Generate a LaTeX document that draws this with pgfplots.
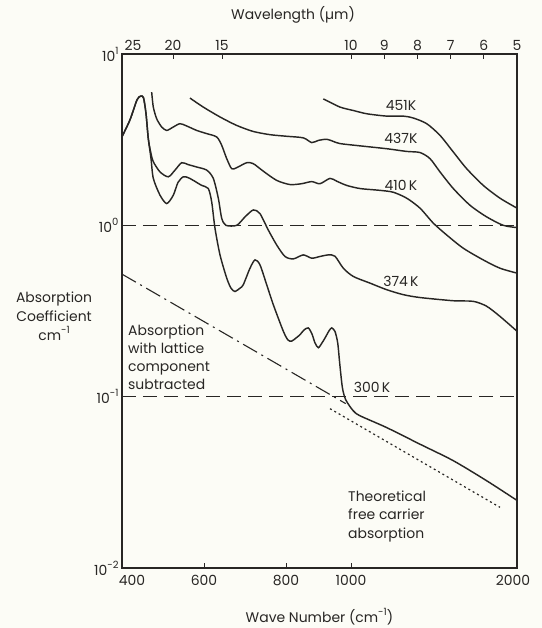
\documentclass[border=0pt]{standalone}
\usepackage{fontspec}
\setmainfont{Poppins}
\usepackage{pgfplots}
\pgfplotsset{compat=1.18}
\definecolor{ink}{RGB}{40,38,36}
\definecolor{paper}{RGB}{252,252,246}
\newcommand{\lbl}{\fontsize{14}{19}\selectfont}
\newcommand{\sus}[1]{\raisebox{0.5em}{\fontsize{10}{10}\selectfont #1}}
\pgfplotsset{
  mybase/.style={
    scale only axis, width=395bp, height=514bp,
    x coord trafo/.code={\pgfmathparse{##1<500 ? (##1-400)*0.51 : (##1<600 ? 51+(##1-500)*0.31 : (##1<666.67 ? 82+(##1-600)*0.27 : (##1<800 ? 100+(##1-666.67)*0.48 : (##1<1000 ? 164+(##1-800)*0.325 : 229+(10-10000/##1)*33.2))))}},
    xmin=400, xmax=2000, ymin=0.01, ymax=10,
    axis line style={ink, line width=1.1bp},
    tick style={ink, line width=1bp}, major tick length=5bp,
    tick align=inside, yminorticks=false, xminorticks=false,
    every tick label/.append style={font=\lbl, text=ink},
    label style={font=\lbl, text=ink},
  }
}
\begin{document}
\begin{tikzpicture}
\fill[paper] (-122bp,-60bp) rectangle (420bp,568bp);
\useasboundingbox (-122bp,-60bp) rectangle (420bp,568bp);
\begin{semilogyaxis}[mybase,
  xtick={400,600,800,1000,2000},
  xticklabels={\hspace*{20bp}400,600,800,1000,2000\hspace*{8bp}},
  xticklabel style={yshift=-4bp},
  xtick pos=lower,
  ytick={0.01,0.1,1,10},
  yticklabels={10\sus{-2},10\sus{-1},10\sus{0},10\sus{1}},
  ytick pos=left,
  xlabel={Wave Number (cm\sus{-1})},
  x label style={at={(axis description cs:0.5,-0.0955)}, anchor=center},
  ylabel={Absorption\\Coefficient\\cm\sus{-1}},
  y label style={rotate=-90, at={(axis description cs:-0.172,0.49)}, anchor=center, align=center},
]
% reference lines
\addplot[ink, line width=1.1bp, dash pattern=on 14bp off 7bp] coordinates {(400,1) (2000,1)};
\addplot[ink, line width=1.1bp, dash pattern=on 14bp off 7bp] coordinates {(400,0.1) (2000,0.1)};
% lattice subtracted (dash-dot)
\addplot[ink, line width=1.1bp, dash pattern=on 16bp off 5bp on 2bp off 5bp] coordinates {(400,0.519) (983.7,0.0911)};
% theoretical free carrier (dotted)
\addplot[ink, line width=1.2bp, dash pattern=on 2bp off 3bp] coordinates {(935.4,0.0851) (1814.2,0.0226)};
% 300 K
\addplot[ink, line width=1.45bp, smooth, tension=0.45] coordinates {
(400,3.29) (415.7,4.13) (429.4,5.40) (436.7,5.68) (442.2,5.55) (447.1,4.48) (451.6,3.20)
(456.9,2.45) (461.4,1.88) (474.5,1.50) (487.7,1.34) (501,1.50) (516.1,1.78) (533.2,1.92)
(548.4,1.90) (565.5,1.83) (592.6,1.71) (615.9,1.64) (628.5,1.37) (640.7,0.961) (659.3,0.672)
(676.5,0.492) (685.4,0.430) (693.7,0.411) (704.2,0.430) (711.0,0.450) (725.0,0.562)
(735.4,0.629) (745.8,0.588) (759.8,0.450) (773.6,0.344) (794.4,0.241) (806.2,0.214)
(817.5,0.211) (830.8,0.220) (843.1,0.230) (855.4,0.245) (868.6,0.252) (880,0.232)
(889.2,0.206) (899.4,0.193) (910.8,0.206) (920,0.220) (932.3,0.242) (940.6,0.252)
(950.8,0.240) (959.1,0.206) (965.2,0.157) (973.5,0.113) (983.7,0.096) (1006.1,0.083)
(1027.8,0.0774) (1120.4,0.0660) (1262.3,0.0528) (1445.3,0.0423) (1691.2,0.0323) (2000,0.0248)};
% 374 K
\addplot[ink, line width=1.45bp, smooth, tension=0.45] coordinates {
(400,3.29) (415.7,4.13) (429.4,5.40) (436.7,5.68) (442.2,5.55) (447.1,4.48) (451.6,3.20)
(456.9,2.62) (461.4,2.35) (474.5,2.05) (490.8,1.92) (506.5,2.10) (528.0,2.32) (549.4,2.26)
(576.5,2.19) (610.0,2.10) (634.4,1.88) (653.0,1.44) (665.6,1.10) (675.0,1.00) (697.3,1.00)
(714.6,1.12) (731.9,1.23) (745.8,1.17) (763.1,0.939) (780.6,0.768) (797.9,0.658)
(822.5,0.637) (853.2,0.672) (879.1,0.643) (904.6,0.658) (930.2,0.672) (950.8,0.660)
(976.4,0.562) (1007.0,0.503) (1060.7,0.460) (1120.4,0.421) (1186.9,0.394) (1262.3,0.379)
(1445.3,0.363) (1583.3,0.360) (1691.2,0.337) (1814.2,0.294) (2000,0.241)};
% 410 K
\addplot[ink, line width=1.45bp, smooth, tension=0.45] coordinates {
(458.2,5.99) (461.4,4.90) (468.0,4.19) (477.8,3.75) (487.7,3.58) (501.0,3.75) (522.6,3.92)
(544.2,3.80) (576.5,3.58) (610.0,3.43) (647.1,3.28) (665.6,2.93) (676.5,2.45) (686.9,2.14)
(697.3,2.17) (718.1,2.32) (731.9,2.29) (752.7,2.07) (780.6,1.83) (812.3,1.73) (848.3,1.75)
(879.1,1.80) (904.6,1.75) (935.4,1.88) (956.0,1.81) (986.8,1.71) (1027.8,1.64) (1095.7,1.60)
(1146.0,1.56) (1201.6,1.44) (1262.3,1.26) (1329.6,1.03) (1405.1,0.878) (1511.2,0.735)
(1662.5,0.628) (1814.2,0.562) (2000,0.526)};
% 437 K
\addplot[ink, line width=1.45bp, smooth, tension=0.45] coordinates {
(554.8,5.53) (597.7,4.90) (659.3,4.29) (697.3,3.83) (731.9,3.53) (767.3,3.38) (802.2,3.31)
(853.2,3.24) (879.1,3.04) (899.4,3.13) (925.2,3.18) (945.5,3.09) (966.2,3.00) (1027.8,2.91)
(1120.4,2.80) (1201.6,2.70) (1262.3,2.66) (1312.3,2.45) (1366.3,2.05) (1445.3,1.64)
(1558.6,1.31) (1691.2,1.12) (1847.5,1.00) (2000,0.970)};
% 451 K
\addplot[ink, line width=1.45bp, smooth, tension=0.45] coordinates {
(914.8,5.47) (966.2,4.90) (1007.0,4.68) (1049.6,4.48) (1120.4,4.34) (1186.9,4.34)
(1231.1,4.23) (1295.3,3.92) (1366.3,3.35) (1445.3,2.68) (1534.9,2.14) (1662.5,1.71)
(1814.2,1.44) (2000,1.26)};
% annotations
\node[font=\lbl, text=ink] at (axis cs:1177,4.98) {451K};
\node[font=\lbl, text=ink] at (axis cs:1177,3.20) {437K};
\node[font=\lbl, text=ink] at (axis cs:1177,1.71) {410\,K};
\node[font=\lbl, text=ink] at (axis cs:1177,0.473) {374\,K};
\node[font=\lbl, text=ink] at (axis cs:1067.6,0.113) {300\,K};
\node[font=\fontsize{14}{18}\selectfont, text=ink, anchor=north west, align=left, inner sep=0pt] at (axis cs:411.8,0.262) {Absorption\\with lattice\\component\\subtracted};
\node[font=\fontsize{14}{18.5}\selectfont, text=ink, anchor=north west, align=left, inner sep=0pt] at (axis cs:990.8,0.0284) {Theoretical\\free carrier\\absorption};
\end{semilogyaxis}
\begin{semilogyaxis}[mybase,
  ytick=\empty, yticklabels={},
  xtick={400,500,666.67,1000,1111.11,1250,1428.57,1666.67,2000},
  xticklabels={\hspace*{22bp}25,20,15,10,9,8,7,6,5},
  xtick pos=upper, xticklabel pos=upper,
  xlabel={Wavelength (µm)},
  x label style={at={(axis description cs:0.433,1.076)}, anchor=center},
]
\addplot[draw=none] coordinates {(400,1) (2000,1)};
\end{semilogyaxis}
\end{tikzpicture}
\end{document}
